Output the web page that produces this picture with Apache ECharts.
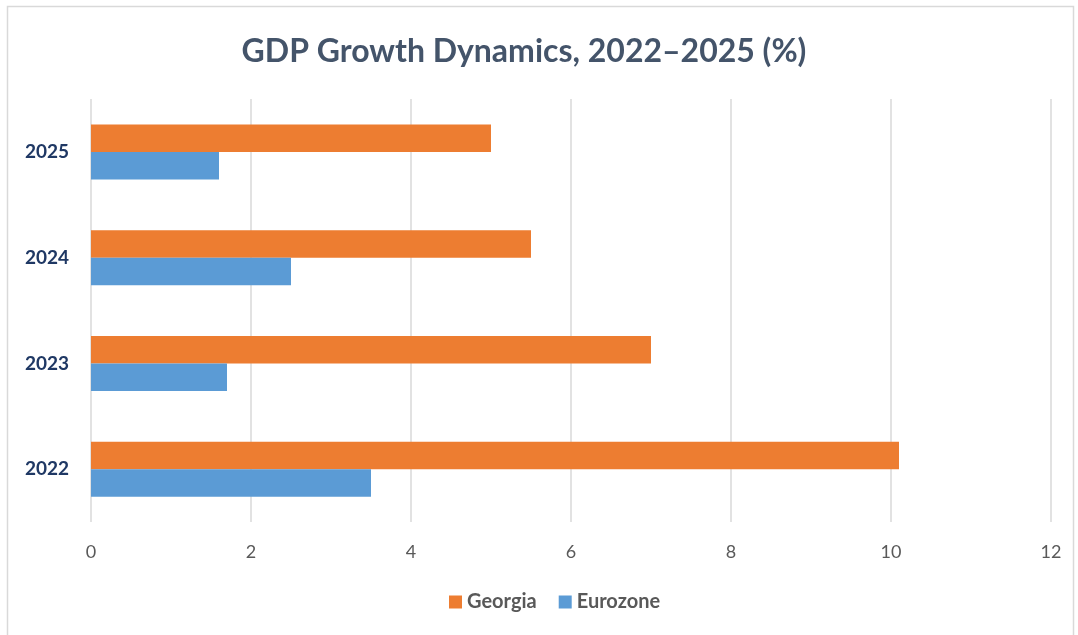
<!DOCTYPE html>
<html>
<head>
<meta charset="utf-8">
<script src="https://cdn.jsdelivr.net/npm/echarts@6/dist/echarts.min.js"></script>
<style>
  html, body { margin: 0; padding: 0; background: #fff; }
  #chart { width: 1078px; height: 635px; }
</style>
</head>
<body>
<div id="chart"></div>
<script>
  var years = ['2022', '2023', '2024', '2025']
  var georgia = [10.1, 7.0, 5.5, 5.0]
  var eurozone = [3.5, 1.7, 2.5, 1.6]
  var xTicks = [0, 2, 4, 6, 8, 10, 12]

  var font = 'Lato, "Open Sans", sans-serif'
  var myChart = echarts.init(document.getElementById('chart'))

  var option = {
    backgroundColor: '#fff',
    textStyle: { fontFamily: font },
    graphic: [{
      type: 'rect',
      shape: { x: 7.5, y: 6.5, width: 1066, height: 640 },
      style: { fill: 'none', stroke: '#d9d9d9', lineWidth: 1.5 },
      silent: true
    }],
    title: {
      text: 'GDP Growth Dynamics, 2022\u20132025 (%)',
      left: 519,
      top: 31,
      textAlign: 'center',
      textStyle: { fontFamily: font, fontSize: 32, fontWeight: 'bold', color: '#44546a' }
    },
    legend: {
      data: ['Georgia', 'Eurozone'],
      top: 587,
      left: 444,
      itemWidth: 13,
      itemHeight: 13,
      itemGap: 22,
      icon: 'rect',
      textStyle: { fontFamily: font, fontSize: 20, fontWeight: 'bold', color: '#595959' }
    },
    grid: { left: 91, right: 27, top: 99, bottom: 113 },
    xAxis: {
      type: 'value',
      min: xTicks[0],
      max: xTicks[xTicks.length - 1],
      interval: 2,
      axisLine: { show: false },
      axisTick: { show: false },
      axisLabel: { fontFamily: font, fontSize: 18, color: '#595959', margin: 21 },
      splitLine: { lineStyle: { color: '#d9d9d9', width: 1.5 } }
    },
    yAxis: {
      type: 'category',
      data: years,
      axisLine: { show: false },
      axisTick: { show: false },
      axisLabel: { fontFamily: font, fontSize: 19, fontWeight: 'bold', color: '#1f3864', margin: 22 },
      splitLine: { show: false }
    },
    series: [
      {
        name: 'Georgia',
        type: 'bar',
        data: georgia,
        barWidth: 27.5,
        barGap: '0%',
        itemStyle: { color: '#ed7d31' }
      },
      {
        name: 'Eurozone',
        type: 'bar',
        data: eurozone,
        barWidth: 27.5,
        barGap: '0%',
        itemStyle: { color: '#5b9bd5' }
      }
    ]
  }

  myChart.setOption(option)
</script>
</body>
</html>
